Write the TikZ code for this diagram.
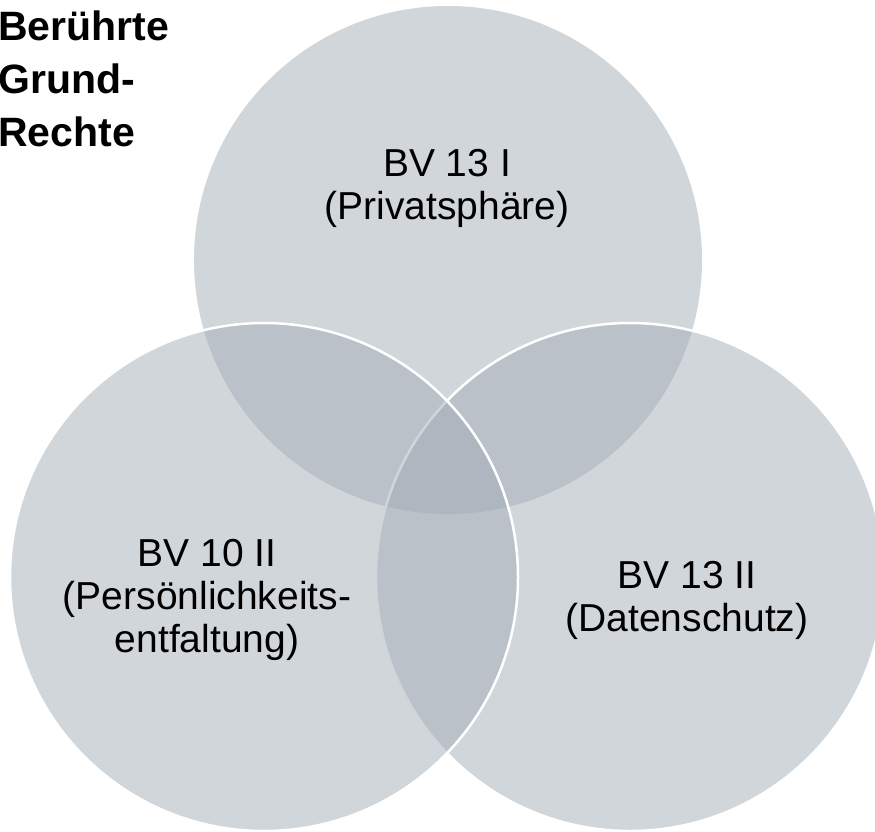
\documentclass[tikz,border=0pt]{standalone}
\usepackage{fontspec}
\setmainfont{Liberation Sans}
\definecolor{venn}{RGB}{163,173,183}
\begin{document}
\begin{tikzpicture}[x=1pt,y=-1pt,
  vcirc/.style={fill=venn,fill opacity=0.5},
  vout/.style={draw=white,line width=2.5pt},
  lbl/.style={align=center,font=\fontsize{39}{43}\selectfont,text=black,inner sep=0pt},
  ttl/.style={align=left,font=\fontsize{41}{53}\selectfont\bfseries,text=black,inner sep=0pt,anchor=north west}]
\useasboundingbox (0,0) rectangle (875,831);
\fill[vcirc] (448,260) circle (254);
\fill[vcirc] (630,577) circle (254);
\draw[vout] (630,577) circle (254);
\fill[vcirc] (264,577) circle (254);
\draw[vout] (264,577) circle (254);
\node[lbl] (top) at (447,188) {BV 13 I\\(Privatsphäre)};
\node[lbl] (left) at (207,600) {BV 10 II\\(Persönlichkeits-\\entfaltung)};
\node[lbl] (right) at (687,600) {BV 13 II\\(Datenschutz)};
\node[ttl] (title) at (-2,11) {Berührte\\Grund-\\Rechte};
\end{tikzpicture}
\end{document}
